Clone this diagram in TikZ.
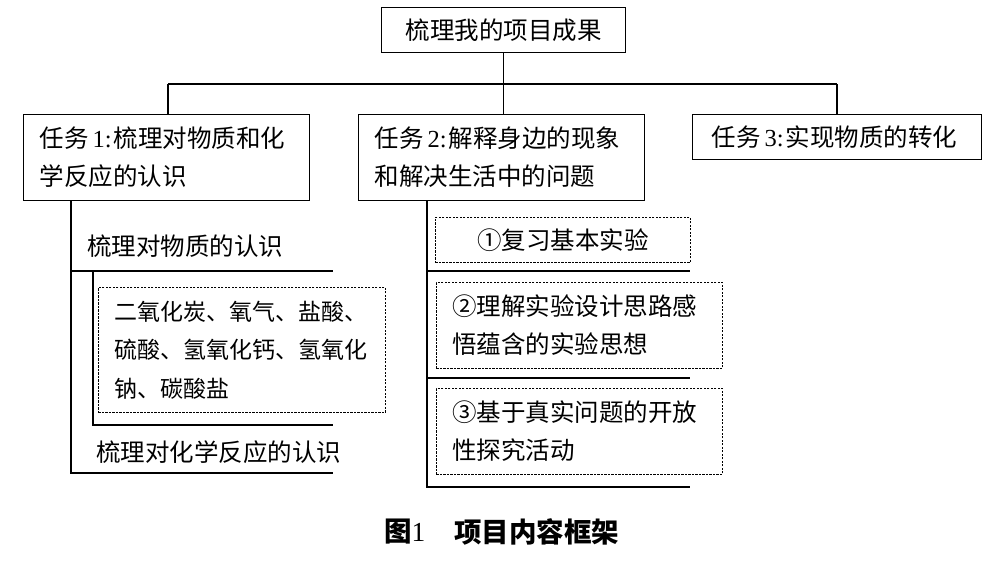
\documentclass[tikz,border=0pt]{standalone}
\usepackage{fontspec}
\setmainfont{Noto Sans CJK SC}
\newfontfamily\lat{Liberation Serif}
\newfontfamily\hei{Noto Sans CJK SC}
\usetikzlibrary{calc}
\tikzset{
  txt/.style={font=\fontsize{24.5}{38}\selectfont},
  box/.style={txt, draw, line width=1.1pt, anchor=north west, inner ysep=0pt, align=left},
  dbox/.style={txt, draw, line width=0.9pt, dash pattern=on 2.2pt off 1.3pt, anchor=north west, inner ysep=0pt, align=left},
  lbl/.style={txt, anchor=west, inner sep=0pt},
  conn/.style={line width=1.1pt},
  captxt/.style={font=\fontsize{27.5}{30}\selectfont\hei\bfseries, anchor=west, inner sep=0pt}
}
\newcommand\tasknum[1]{\hspace{4pt}{\lat #1:}\hspace{2pt}}
\begin{document}
\begin{tikzpicture}[x=1pt,y=-1pt]
\useasboundingbox (0,0) rectangle (1000,576);
% main boxes
\node[box, align=center, minimum width=244pt, minimum height=45pt, text width=220pt, inner xsep=12pt] (top) at (381,7) {梳理我的项目成果};
\node[box, minimum width=286pt, minimum height=86pt, text width=254pt, inner xsep=16pt] (t1) at (23,114) {任务\tasknum{1}梳理对物质和化\\学反应的认识};
\node[box, minimum width=286pt, minimum height=86pt, text width=254pt, inner xsep=16pt] (t2) at (358,114) {任务\tasknum{2}解释身边的现象\\和解决生活中的问题};
\node[box, minimum width=289pt, minimum height=45pt, text width=251pt, inner xsep=19pt] (t3) at (692,114) {任务\tasknum{3}实现物质的转化};
% bar
\coordinate (bl) at (168,84);
\coordinate (br) at (837,84);
\draw[conn] (top.south) -- (top.south |- bl);
\draw[conn] (bl) -- (br);
\draw[conn] (bl) -- (bl |- t1.north);
\draw[conn] (top.south |- bl) -- (top.south |- t2.north);
\draw[conn] (br) -- (br |- t3.north);
% task 1 subtree
\node[lbl] (l1) at (87,246) {梳理对物质的认识};
\node[dbox, font=\fontsize{23}{38.5}\selectfont, minimum width=287pt, minimum height=125pt, text width=255pt, inner xsep=16pt] (d1) at (98,287) {二氧化炭、氧气、盐酸、\\硫酸、氢氧化钙、氢氧化\\钠、碳酸盐};
\node[lbl] (l2) at (96,452) {梳理对化学反应的认识};
\coordinate (v1b) at (71,473);
\coordinate (h1e) at (333,271);
\coordinate (h2e) at (333,425);
\coordinate (h3e) at (333,473);
\coordinate (v2t) at (93,271);
\draw[conn] (t1.south -| v1b) -- (v1b) -- (h3e);
\draw[conn] (v1b |- h1e) -- (h1e);
\draw[conn] (v2t) -- (v2t |- h2e) -- (h2e);
% task 2 subtree
\node[dbox, align=center, minimum width=255pt, minimum height=45pt, text width=231pt, inner xsep=12pt] (e1) at (435,217) {①复习基本实验};
\node[dbox, minimum width=286pt, minimum height=86pt, text width=254pt, inner xsep=16pt] (e2) at (436,282) {②理解实验设计思路感\\悟蕴含的实验思想};
\node[dbox, minimum width=286pt, minimum height=86pt, text width=254pt, inner xsep=16pt] (e3) at (436,388) {③基于真实问题的开放\\性探究活动};
\coordinate (w1b) at (427,487);
\coordinate (g1) at (690,271);
\coordinate (g2) at (690,378);
\coordinate (g3) at (690,487);
\draw[conn] (t2.south -| w1b) -- (w1b) -- (g3);
\draw[conn] (w1b |- g1) -- (g1);
\draw[conn] (w1b |- g2) -- (g2);
% caption
\node[captxt] (c1) at (384,532) {图{\lat\mdseries 1}};
\node[captxt] (c2) at (454,532) {项目内容框架};
\end{tikzpicture}
\end{document}
